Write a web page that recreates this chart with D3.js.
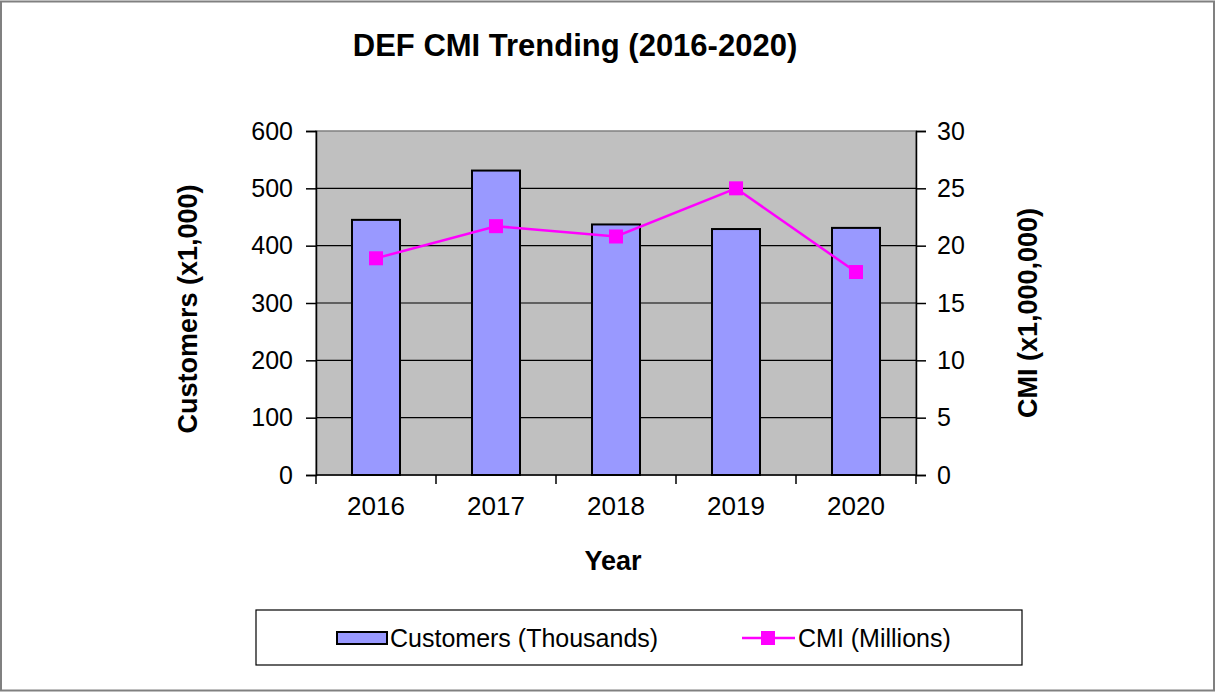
<!DOCTYPE html>
<html>
<head>
<meta charset="utf-8">
<script src="https://cdn.jsdelivr.net/npm/d3@7"></script>
<style>
  body { margin: 0; background: #fff; }
  svg { display: block; font-family: "Liberation Sans", Arial, sans-serif; }
</style>
</head>
<body>
<svg id="chart" width="1216" height="694"></svg>
<script>
// data
const years = ["2016", "2017", "2018", "2019", "2020"];
const customers = [445, 531, 437, 429, 431];   // thousands
const cmi = [18.9, 21.7, 20.8, 25.0, 17.7];    // millions
const leftTicks = [0, 100, 200, 300, 400, 500, 600];
const rightTicks = [0, 5, 10, 15, 20, 25, 30];

const svg = d3.select("#chart");

// outer frame
svg.append("rect")
    .attr("x", 1).attr("y", 1.5)
    .attr("width", 1213).attr("height", 689)
    .attr("fill", "#fff")
    .attr("stroke", "#808080")
    .attr("stroke-width", 2);

// title
svg.append("text")
    .attr("x", 575).attr("y", 56)
    .attr("text-anchor", "middle")
    .attr("font-size", 31).attr("font-weight", "bold")
    .text("DEF CMI Trending (2016-2020)");

const plot = { left: 316, right: 916, top: 131, bottom: 475 };

const x = d3.scaleBand().domain(years).range([plot.left, plot.right]);
const yL = d3.scaleLinear().domain([0, 600]).range([plot.bottom, plot.top]);
const yR = d3.scaleLinear().domain([0, 30]).range([plot.bottom, plot.top]);

// plot background
svg.append("rect")
    .attr("x", plot.left).attr("y", plot.top)
    .attr("width", plot.right - plot.left).attr("height", plot.bottom - plot.top)
    .attr("fill", "#C0C0C0")
    .attr("stroke", "#808080")
    .attr("stroke-width", 1.5);

// gridlines
svg.append("g")
    .selectAll("line")
    .data(leftTicks.filter(d => d > 0 && d < 600))
    .join("line")
    .attr("x1", plot.left).attr("x2", plot.right)
    .attr("y1", d => yL(d)).attr("y2", d => yL(d))
    .attr("stroke", "#000").attr("stroke-width", 1.2);

// bars
const barW = x.bandwidth() * 0.4;
svg.append("g")
    .selectAll("rect")
    .data(customers)
    .join("rect")
    .attr("x", (d, i) => x(years[i]) + (x.bandwidth() - barW) / 2)
    .attr("y", d => yL(d))
    .attr("width", barW)
    .attr("height", d => yL(0) - yL(d))
    .attr("fill", "#9999FF")
    .attr("stroke", "#000")
    .attr("stroke-width", 2);

// line series
const line = d3.line()
    .x((d, i) => x(years[i]) + x.bandwidth() / 2)
    .y(d => yR(d));
svg.append("path")
    .datum(cmi)
    .attr("d", line)
    .attr("fill", "none")
    .attr("stroke", "#FF00FF")
    .attr("stroke-width", 2.5);

const mk = 14;
svg.append("g")
    .selectAll("rect")
    .data(cmi)
    .join("rect")
    .attr("x", (d, i) => x(years[i]) + x.bandwidth() / 2 - mk / 2)
    .attr("y", d => yR(d) - mk / 2)
    .attr("width", mk).attr("height", mk)
    .attr("fill", "#FF00FF");

// axes
const leftAxis = svg.append("g")
    .attr("transform", `translate(${plot.left},0)`)
    .call(d3.axisLeft(yL).tickValues(leftTicks).tickSize(10).tickPadding(13));
const rightAxis = svg.append("g")
    .attr("transform", `translate(${plot.right},0)`)
    .call(d3.axisRight(yR).tickValues(rightTicks).tickSize(10).tickPadding(11));
const bottomAxis = svg.append("g")
    .attr("transform", `translate(0,${plot.bottom})`)
    .call(d3.axisBottom(x).tickSize(0).tickPadding(22));

// x tick marks sit on category boundaries
svg.append("g")
    .selectAll("line")
    .data(years.concat(["end"]))
    .join("line")
    .attr("x1", (d, i) => plot.left + i * x.bandwidth())
    .attr("x2", (d, i) => plot.left + i * x.bandwidth())
    .attr("y1", plot.bottom).attr("y2", plot.bottom + 9)
    .attr("stroke", "#000").attr("stroke-width", 1.5);

[leftAxis, rightAxis, bottomAxis].forEach(a => {
    a.selectAll("path.domain").attr("stroke", "#000").attr("stroke-width", 1.5);
    a.selectAll(".tick line").attr("stroke", "#000").attr("stroke-width", 1.5);
    a.selectAll("text")
        .attr("font-size", 25)
        .attr("font-family", "Liberation Sans, Arial, sans-serif")
        .attr("fill", "#000");
});
bottomAxis.selectAll("text").attr("font-size", 26);
bottomAxis.select("path.domain").attr("d", `M${plot.left},0H${plot.right}`);

// axis titles
svg.append("text")
    .attr("transform", "translate(197,309) rotate(-90)")
    .attr("text-anchor", "middle")
    .attr("font-size", 27).attr("font-weight", "bold")
    .text("Customers (x1,000)");
svg.append("text")
    .attr("transform", "translate(1037,313) rotate(-90)")
    .attr("text-anchor", "middle")
    .attr("font-size", 27).attr("font-weight", "bold")
    .text("CMI (x1,000,000)");
svg.append("text")
    .attr("x", 613).attr("y", 570)
    .attr("text-anchor", "middle")
    .attr("font-size", 27).attr("font-weight", "bold")
    .text("Year");

// legend
const legend = svg.append("g");
legend.append("rect")
    .attr("x", 256).attr("y", 610)
    .attr("width", 766).attr("height", 55)
    .attr("fill", "#fff")
    .attr("stroke", "#000").attr("stroke-width", 1.2);
legend.append("rect")
    .attr("x", 337).attr("y", 632)
    .attr("width", 50).attr("height", 12)
    .attr("fill", "#9999FF")
    .attr("stroke", "#000").attr("stroke-width", 2);
legend.append("text")
    .attr("x", 390).attr("y", 647)
    .attr("font-size", 25)
    .text("Customers (Thousands)");
legend.append("line")
    .attr("x1", 742).attr("x2", 795)
    .attr("y1", 638).attr("y2", 638)
    .attr("stroke", "#FF00FF").attr("stroke-width", 2.5);
legend.append("rect")
    .attr("x", 761).attr("y", 631)
    .attr("width", 14).attr("height", 14)
    .attr("fill", "#FF00FF");
legend.append("text")
    .attr("x", 798).attr("y", 647)
    .attr("font-size", 25)
    .text("CMI (Millions)");
</script>
</body>
</html>
